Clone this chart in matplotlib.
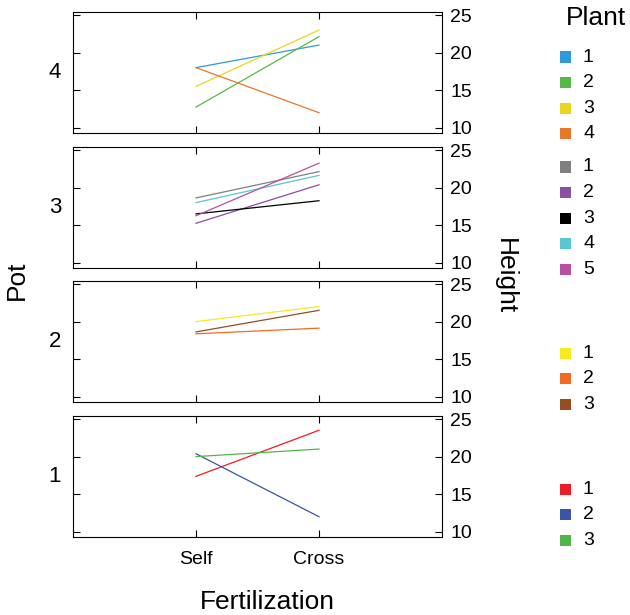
import matplotlib
matplotlib.use('Agg')
import matplotlib.pyplot as plt
from matplotlib.patches import Rectangle

plt.rcParams['font.family'] = ['Liberation Sans', 'DejaVu Sans']

# Darwin's Zea mays heights, one pair of plants per row
fert_labels = ['Self', 'Cross']
pots = [4, 3, 2, 1]  # top to bottom

pot1_self = [17.375, 20.375, 20.0]
pot1_cross = [23.5, 12.0, 21.0]
pot2_self = [20.0, 18.375, 18.625]
pot2_cross = [22.0, 19.125, 21.5]
pot3_self = [18.625, 15.25, 16.5, 18.0, 16.25]
pot3_cross = [22.125, 20.375, 18.25, 21.625, 23.25]
pot4_self = [18.0, 12.75, 15.5, 18.0]
pot4_cross = [21.0, 22.125, 23.0, 12.0]

pot1_colors = ['#EE1C25', '#3B54A5', '#4FB748']
pot2_colors = ['#F7EB1F', '#F26B21', '#944E20']
pot3_colors = ['#808080', '#8A4FA3', '#000000', '#58C7CF', '#B7509F']
pot4_colors = ['#2E9AD9', '#57B847', '#E8D71A', '#E8762B']

data = {
    1: (pot1_self, pot1_cross, pot1_colors),
    2: (pot2_self, pot2_cross, pot2_colors),
    3: (pot3_self, pot3_cross, pot3_colors),
    4: (pot4_self, pot4_cross, pot4_colors),
}

W, H = 630, 615
fig = plt.figure(figsize=(W / 100, H / 100), dpi=100)

panel_tops = [12, 147, 281, 416]
panel_h = 121
left, width = 73, 369

for i, pot in enumerate(pots):
    s, c, cols = data[pot]
    top = panel_tops[i]
    ax = fig.add_axes([left / W, 1 - (top + panel_h) / H, width / W, panel_h / H])
    for k in range(len(s)):
        ax.plot([1, 2], [s[k], c[k]], color=cols[k], lw=0.9)
    ax.set_xlim(0, 3)
    ax.set_ylim(9.3, 25.4)
    ax.set_xticks([1, 2])
    ax.set_xticklabels(fert_labels)
    ax.set_yticks([10, 15, 20, 25])
    ax.tick_params(direction='in', length=5, width=0.8, top=True, bottom=True,
                   left=True, right=True, labelleft=False, labelright=True,
                   labelbottom=(i == len(pots) - 1), labelsize=14)
    ax.tick_params(axis='y', pad=6)
    ax.tick_params(axis='x', pad=10)
    for sp in ax.spines.values():
        sp.set_linewidth(0.8)
    fig.text(55 / W, 1 - (top + panel_h / 2) / H, str(pot), ha='center',
             va='center', fontsize=16)

fig.text(17 / W, 1 - 280 / H, 'Pot', rotation=90, ha='center', va='center', fontsize=19)
fig.text(505 / W, 1 - 276 / H, 'Height', rotation=270, ha='center', va='center', fontsize=19)
fig.text(267 / W, 1 - 602 / H, 'Fertilization', ha='center', va='center', fontsize=19)

# legend, one block per pot
fig.text(596 / W, 1 - 18 / H, 'Plant', ha='center', va='center', fontsize=19)
group_starts = [57, 167, 353, 489]
step = 25.6
sq = 11
for i, pot in enumerate(pots):
    cols = data[pot][2]
    for k, col in enumerate(cols):
        yc = group_starts[i] + k * step
        fig.patches.append(Rectangle(((565 - sq / 2) / W, 1 - (yc + sq / 2) / H),
                                     sq / W, sq / H, transform=fig.transFigure,
                                     facecolor=col, edgecolor='none'))
        fig.text(583 / W, 1 - yc / H, str(k + 1), ha='left', va='center', fontsize=14)

fig.savefig('out.png', dpi=100)
